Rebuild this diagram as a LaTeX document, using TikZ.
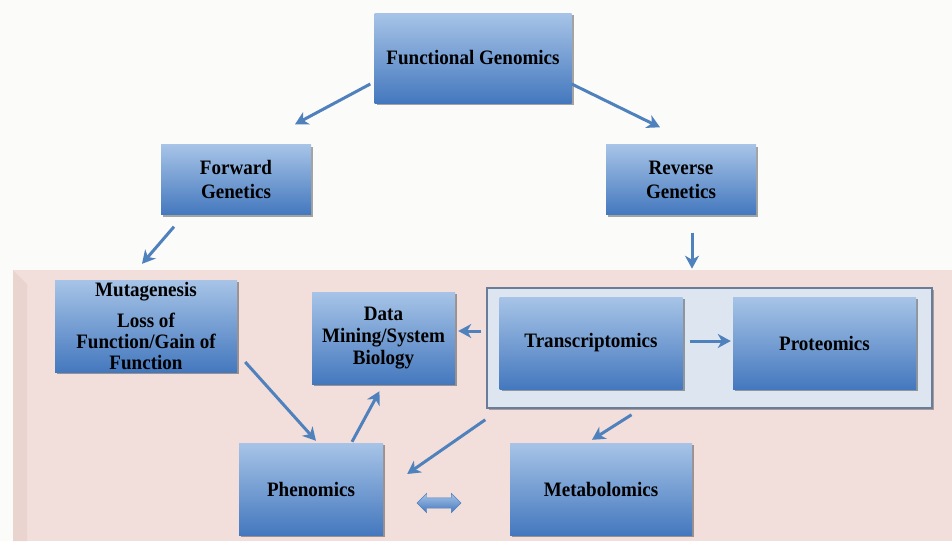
\documentclass[tikz,border=0pt]{standalone}
\usepackage{fontspec}
\setmainfont[FakeStretch=0.93]{Liberation Serif}
\usetikzlibrary{arrows.meta,shadows,shapes.arrows,calc}
\definecolor{boxtop}{RGB}{167,196,231}
\definecolor{boxbot}{RGB}{68,120,190}
\definecolor{arrowblue}{RGB}{79,129,189}
\definecolor{pinkbg}{RGB}{242,223,219}
\definecolor{pinkedge}{RGB}{234,212,208}
\definecolor{contfill}{RGB}{221,229,240}
\definecolor{contdraw}{RGB}{105,125,155}
\definecolor{pagebg}{RGB}{251,251,249}
\begin{document}
\begin{tikzpicture}[x=1pt,y=-1pt,
  gbox/.style={rectangle, top color=boxtop, bottom color=boxbot, inner sep=0pt,
    align=center, text=black, font=\bfseries\fontsize{20.5}{24}\selectfont,
    drop shadow={shadow xshift=2pt, shadow yshift=-2pt, opacity=0.35, fill=black}},
  cont/.style={rectangle, fill=contfill, draw=contdraw, line width=1.5pt,
    drop shadow={shadow xshift=2pt, shadow yshift=-2pt, opacity=0.3, fill=black}},
  arr/.style={draw=arrowblue, line width=3pt, -{Stealth[length=13pt,width=14pt,inset=4pt]}},
  dbl/.style={double arrow, top color=boxtop, bottom color=boxbot, draw=arrowblue,
    minimum height=44pt, minimum width=19pt, inner sep=5pt, double arrow head extend=4.5pt}
]
\useasboundingbox (0,0) rectangle (952,541);
\fill[pagebg] (0,0) rectangle (952,541);
% pink region
\fill[pinkbg] (13,270) rectangle (952,541);
\fill[pinkedge] (13,270) -- (27,284) -- (27,541) -- (13,541) -- cycle;

% nodes
\node[gbox, minimum width=197pt, minimum height=90pt] (fg) at (473,58) {Functional Genomics};
\node[gbox, minimum width=150pt, minimum height=70pt] (fwd) at (236,179.5) {Forward\\Genetics};
\node[gbox, minimum width=150pt, minimum height=70pt] (rev) at (681,179.5) {Reverse\\Genetics};
\node[gbox, minimum width=182pt, minimum height=92pt, font=\bfseries\fontsize{20.5}{21}\selectfont] (mut) at (146,326) {Mutagenesis\\[10pt]Loss of\\Function/Gain of\\Function};
\node[gbox, minimum width=143pt, minimum height=92pt, font=\bfseries\fontsize{20.5}{22}\selectfont] (dm) at (383.5,338) {Data\\Mining/System\\Biology};
\node[cont, minimum width=445pt, minimum height=120pt] (cont) at (709.5,348) {};
\node[gbox, minimum width=183pt, minimum height=92pt] (tr) at (591,343) {Transcriptomics};
\node[gbox, minimum width=183pt, minimum height=92pt] (pr) at (824.5,343) {Proteomics};
\node[gbox, minimum width=144pt, minimum height=92pt] (ph) at (311,489) {Phenomics};
\node[gbox, minimum width=182pt, minimum height=92pt] (met) at (601,489) {Metabolomics};
\node[dbl] (dbl) at (439,503) {};

% connectors
\draw[arr] ($(fg.west)+(-4,26)$) -- ($(fwd.north)+(59,-20)$);
\draw[arr] ($(fg.east)+(0,26)$) -- ($(rev.north)+(-21,-17)$);
\draw[arr] ($(fwd.south)+(-62,12)$) -- ($(mut.north)+(-4,-16)$);
\draw[arr] ($(rev.south)+(11,18)$) -- ($(rev.south)+(11,54)$);
\draw[arr] ($(cont.west)+(-5,-17)$) -- ($(dm.east)+(3,-7)$);
\draw[arr] ($(tr.east)+(7,-2)$) -- ($(pr.west)+(-2,-2)$);
\draw[arr] ($(mut.east)+(8,36)$) -- ($(ph.north)+(5,-2)$);
\draw[arr] ($(ph.north)+(41,-1)$) -- ($(dm.south)+(-4,7)$);
\draw[arr] ($(cont.south west)+(-1,11)$) -- ($(ph.east)+(24,-15)$);
\draw[arr] ($(cont.south)+(-78,6)$) -- ($(met.north)+(-9,-3)$);
\end{tikzpicture}
\end{document}
